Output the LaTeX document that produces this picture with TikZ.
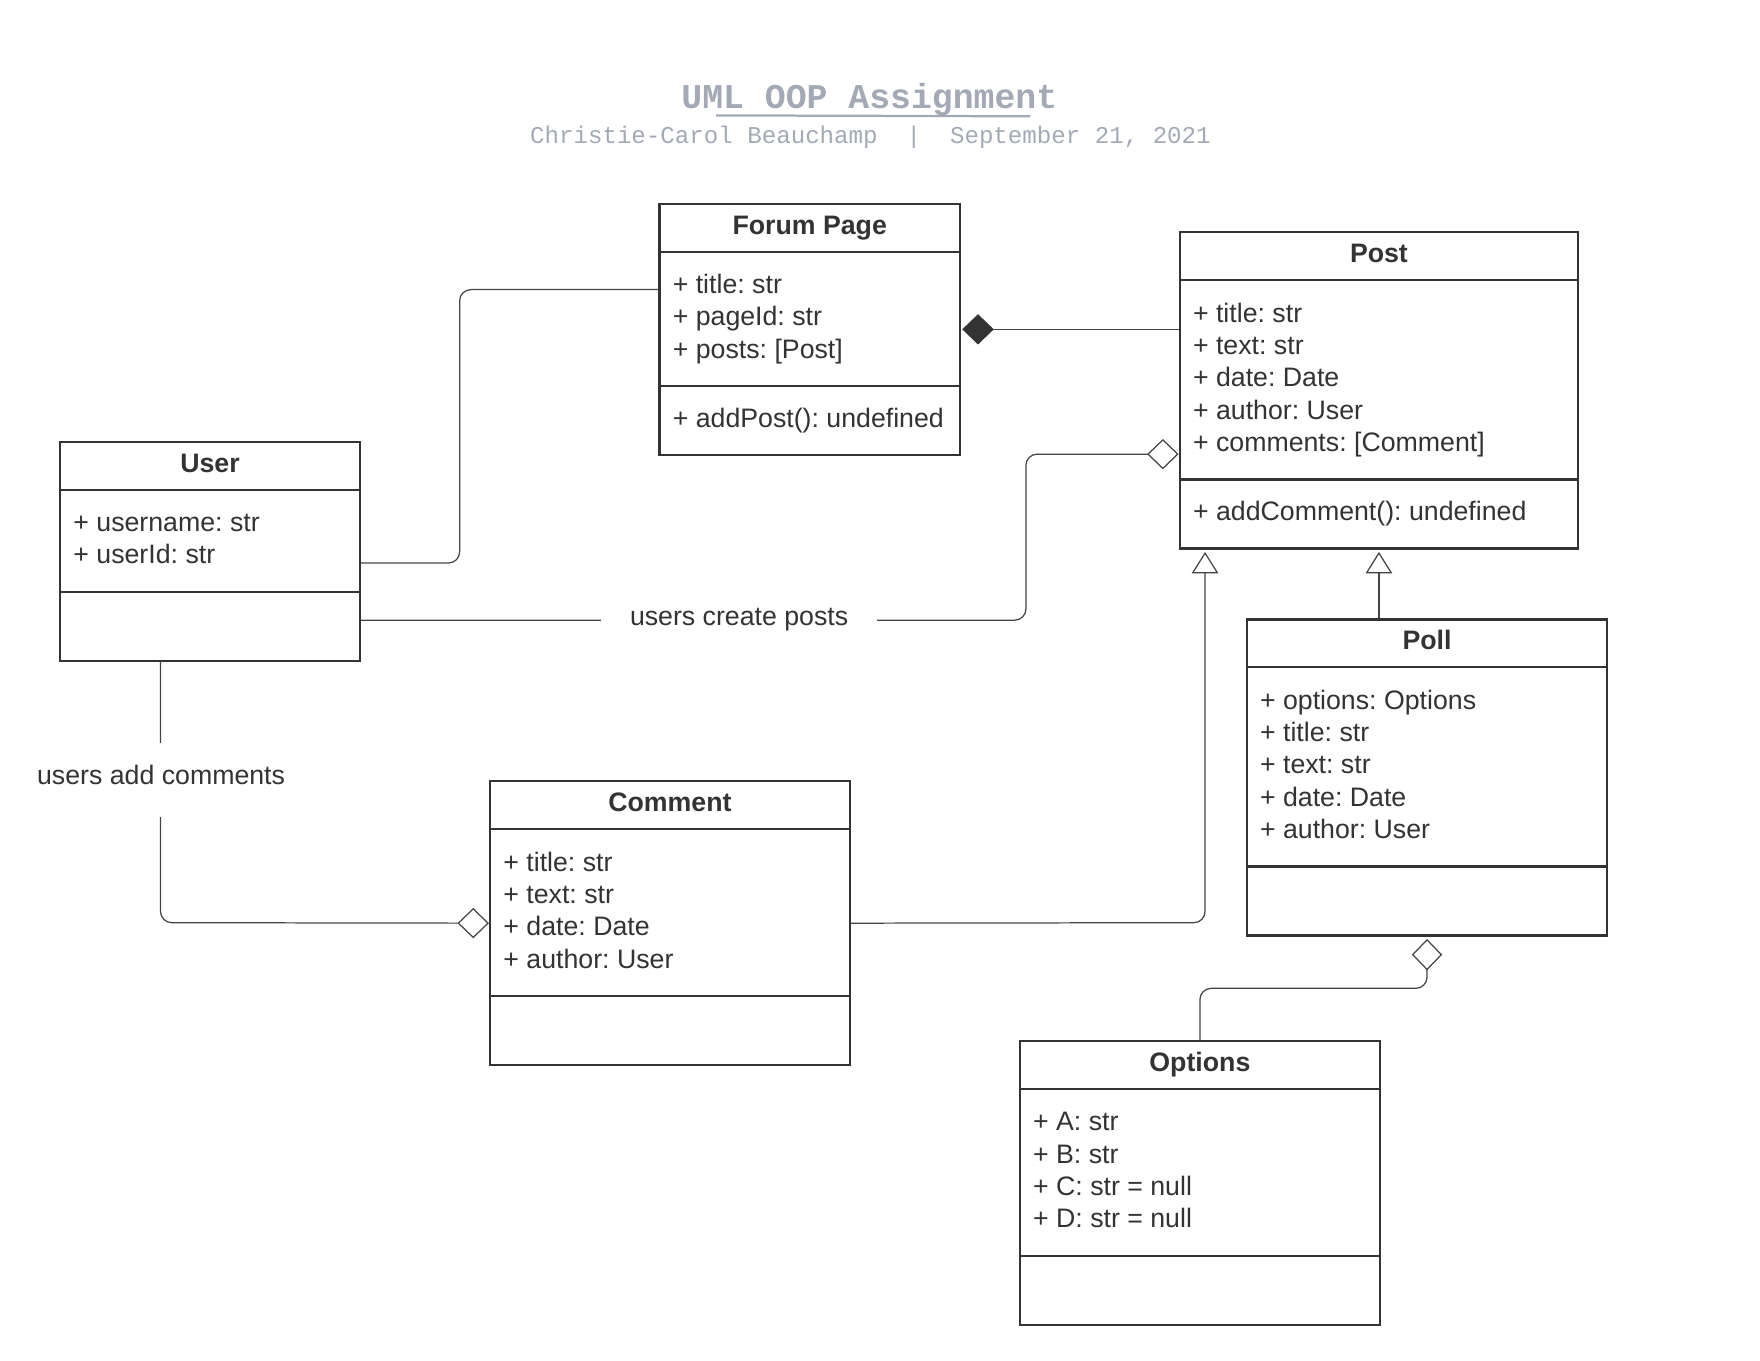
\documentclass[tikz,border=0pt]{standalone}
\usepackage{fontspec}
\setmainfont{Liberation Sans}
\newfontfamily\titlemono{Liberation Mono}
\usetikzlibrary{arrows.meta,fit}
\definecolor{ink}{HTML}{333333}
\definecolor{wirec}{HTML}{444444}
\definecolor{titlegray}{HTML}{A4AAB5}
\frenchspacing

\tikzset{
  classbox/.style={draw=ink, line width=1pt, inner sep=0pt},
  classname/.style={font=\fontsize{11.9}{14.4}\selectfont\bfseries, text=ink, anchor=base, inner sep=0pt},
  member/.style={font=\fontsize{11.9}{14.4}\selectfont, text=ink, anchor=base west, inner sep=0pt},
  seprule/.style={draw=ink, line width=1pt},
  wire/.style={draw=wirec, line width=0.55pt, rounded corners=5pt},
  lbl/.style={font=\fontsize{11.9}{14.4}\selectfont, text=ink, fill=white},
  odiamond/.style={-{Diamond[open,length=14pt,width=13.5pt]}},
  fdiamond/.style={-{Diamond[color=ink,length=14pt,width=13.5pt]}},
  inherit/.style={-{Triangle[open,length=9.5pt,width=11.75pt]}},
}

% #1 name, #2 left, #3 top, #4 right, #5 number of attributes, #6 title, #7 attributes, #8 method
\newcommand{\umlclass}[8]{%
  \pgfmathsetmacro{\clsA}{#3+42.7}%
  \pgfmathsetmacro{\clsB}{\clsA+28.8*#5+33.5}%
  \pgfmathsetmacro{\clsBot}{\clsB+61.5}%
  \pgfmathsetmacro{\clsCx}{(#2+#4)/2}%
  \node[classbox, fit={(#2,#3) (#4,\clsBot)}] (#1) {};
  \node[classname] (#1-name) at (\clsCx,#3+27) {#6};
  \draw[seprule] (#2,\clsA) -- (#4,\clsA);
  \draw[seprule] (#2,\clsB) -- (#4,\clsB);
  \foreach \t [count=\i from 0] in {#7} {
    \node[member] (#1-a\i) at (#2+11.5,#3+80+28.8*\i) {\t};
  }
  \if\relax\detokenize{#8}\relax\else
    \node[member] (#1-m) at (#2+11.5,\clsB+36.5) {#8};
  \fi
}

\begin{document}
\begin{tikzpicture}[x=0.5pt,y=-0.5pt]
  \fill[white] (0,0) rectangle (1568,1212);
  \useasboundingbox (0,0) rectangle (1568,1212);

  % heading
  \node[font=\titlemono\bfseries\fontsize{15.5}{18}\selectfont, text=titlegray, anchor=base, inner sep=0pt] (title) at (774.5,96.5) {UML OOP Assignment};
  \draw[titlegray, line width=1pt] (638,102.8) -- (918,103.6);
  \node[font=\titlemono\fontsize{10.75}{13}\selectfont, text=titlegray, anchor=base, inner sep=0pt] (subtitle) at (775.5,127.5) {Christie-Carol Beauchamp~~|~~September 21, 2021};

  % classes
  \umlclass{forum}{587.5}{181.5}{855.3}{3}{Forum Page}{{+ title: str},{+ pageId: str},{+ posts: [Post]}}{+ addPost(): undefined}
  \umlclass{post}{1051}{207}{1406}{5}{Post}{{+ title: str},{+ text: str},{+ date: Date},{+ author: User},{+ comments: [Comment]}}{+ addComment(): undefined}
  \umlclass{user}{53.5}{393.5}{320.7}{2}{User}{{+ username: str},{+ userId: str}}{}
  \umlclass{poll}{1110.7}{551.8}{1432}{5}{Poll}{{+ options: Options},{+ title: str},{+ text: str},{+ date: Date},{+ author: User}}{}
  \umlclass{comment}{436.6}{696}{757}{4}{Comment}{{+ title: str},{+ text: str},{+ date: Date},{+ author: User}}{}
  \umlclass{options}{908.5}{927.5}{1229.5}{4}{Options}{{+ A: str},{+ B: str},{+ C: str = null},{+ D: str = null}}{}

  % connectors
  \draw[wire] (user.east |- 0,501.6) -- (409.5,501.6) -- (409.5,258) -- (forum.west |- 0,258);
  \draw[wire, fdiamond, shorten >=0.5pt] (post.west |- 0,293.4) -- (forum.east |- 0,293.4);
  \draw[wire, odiamond] (user.east |- 0,552.5) -- (914,552.5) -- (914,404.6) -- (post.west |- 0,404.6);
  \node[lbl, anchor=base, inner xsep=13pt, inner ysep=0pt] (lblposts) at (658.5,557) {users create posts};
  \draw[wire, inherit, shorten >=1pt] (comment.east) -- (1073.6,822) -- (post.south -| 1073.6,0);
  \draw[wire, inherit, shorten >=1pt] (poll.north -| post.south) -- (post.south);
  \draw[wire, odiamond] (user.south -| 143,0) -- (143,822) -- (comment.west);
  \node[lbl, anchor=center, inner xsep=2pt, inner ysep=0pt, minimum height=33pt, text height=9pt, text depth=5pt] (lblcomments) at (143.5,694.5) {users add comments};
  \draw[wire, odiamond, shorten >=1pt] (options.north) -- (options.north |- 0,880.5) -- (poll.south |- 0,880.5) -- (poll.south);
\end{tikzpicture}
\end{document}
